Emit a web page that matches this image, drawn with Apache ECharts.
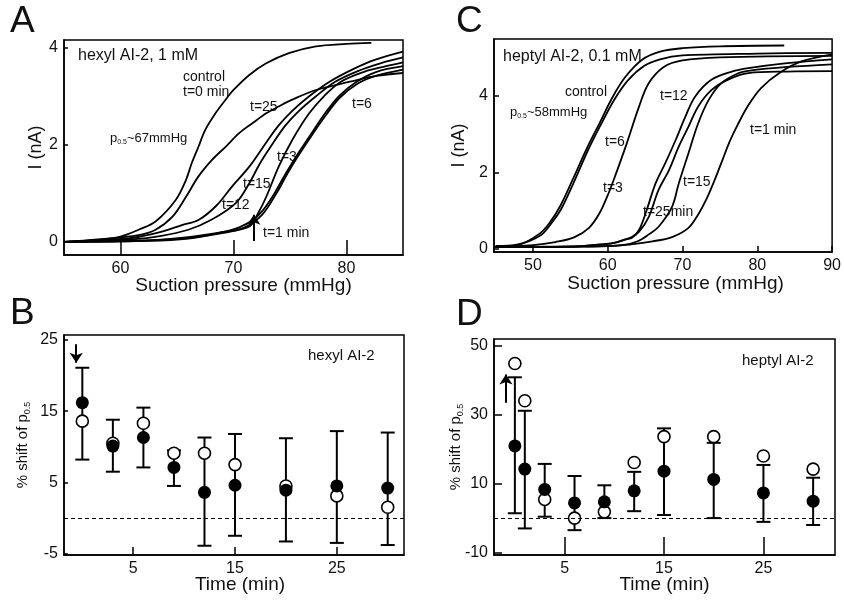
<!DOCTYPE html>
<html>
<head>
<meta charset="utf-8">
<script src="https://cdn.jsdelivr.net/npm/echarts@6.0.0/dist/echarts.min.js"></script>
<style>
  html, body { margin: 0; padding: 0; background: #fff; }
  #fig { width: 844px; height: 606px; }
</style>
</head>
<body>
<div id="fig"></div>
<script>
// panel A: hexyl AI-2, 1 mM -- current (nA) vs suction pressure (mmHg)
var aControl = [[55,0],[58,0.04],[60,0.11],[61.6,0.25],[63.1,0.42],[64.9,0.87],[65.8,1.28],[66.3,1.62],[66.9,1.96],[67.5,2.31],[68.4,2.65],[69.3,2.93],[70,3.13],[71.4,3.44],[72.9,3.68],[74.9,3.89],[77.3,4.03],[80,4.08],[82.2,4.1]]
var a25 = [[55,0],[58,0.05],[61.6,0.14],[63.1,0.25],[64.6,0.52],[65.8,0.93],[66.9,1.35],[68.1,1.69],[69.3,1.96],[70.5,2.24],[71.7,2.45],[72.9,2.65],[74,2.79],[75.2,2.93],[77.3,3.13],[80.3,3.3],[82.6,3.42],[85,3.48]]
var a15 = [[55,0],[58,0.03],[61,0.08],[63.5,0.2],[65.5,0.35],[66.9,0.45],[68.5,0.75],[69.9,1.15],[71.4,1.55],[72.9,2.05],[74,2.4],[75.2,2.7],[76.7,3.0],[78.5,3.3],[80.5,3.55],[82.5,3.75],[85,3.92]]
var a12 = [[55,0],[58,0.02],[61,0.05],[63.5,0.12],[66,0.25],[68,0.45],[70.2,0.8],[71.4,1.21],[72.3,1.6],[73.4,2.0],[74.6,2.4],[75.8,2.7],[77.3,3.0],[79,3.3],[81,3.52],[83,3.68],[85,3.8]]
var a3 = [[55,0],[62,0.03],[66,0.1],[69,0.2],[71.4,0.32],[72.2,0.6],[72.9,0.93],[74,1.55],[75.2,2.1],[76.7,2.65],[78,3.0],[79.5,3.3],[81.5,3.5],[83.5,3.62],[85,3.7]]
var a1 = [[55,0],[62,0.02],[66,0.07],[69,0.2],[70.5,0.3],[71.7,0.45],[72.6,0.65],[73.5,0.95],[74.6,1.4],[75.8,1.85],[77,2.27],[78.2,2.68],[79.4,3.02],[80.9,3.3],[82.6,3.5],[85,3.62]]
var a6 = [[55,0],[62,0.02],[66,0.08],[69,0.18],[71,0.3],[72.5,0.55],[73.8,1.0],[74.8,1.42],[75.8,1.8],[77,2.22],[78.2,2.62],[79.4,2.97],[80.9,3.25],[82.6,3.42],[85,3.55]]

// panel C: heptyl AI-2, 0.1 mM
var cControl = [[45,0.05],[48,0.1],[50.9,0.4],[52.3,0.7],[53.6,1.1],[55.3,1.8],[57.1,2.58],[58.9,3.28],[60.7,3.98],[62.4,4.5],[64.6,4.94],[67,5.15],[70,5.24],[75,5.29],[83.6,5.31]]
var c6 = [[45,0.08],[48,0.12],[51,0.35],[52.5,0.68],[53.8,1.05],[55.5,1.75],[57.3,2.55],[59.1,3.25],[60.9,3.9],[62.7,4.4],[64.9,4.78],[67,4.95],[70,5.05],[80,5.1],[90,5.12]]
var c3 = [[45,0.05],[50,0.1],[53,0.18],[55.5,0.3],[57.5,0.55],[58.9,0.93],[60,1.4],[60.8,1.8],[62.4,2.67],[64.2,3.72],[65.5,4.33],[67.5,4.75],[70,4.92],[75,5.0],[90,5.04]]
var c12 = [[45,0.05],[55,0.06],[58,0.1],[60.7,0.15],[62.4,0.25],[63.3,0.3],[64.2,0.5],[65.1,0.95],[66.4,1.71],[67.7,2.24],[69.1,2.85],[70.4,3.46],[71.7,3.98],[73.9,4.42],[76.6,4.63],[78.8,4.72],[84,4.85],[90,4.95]]
var c25 = [[45,0.05],[55,0.06],[58,0.1],[60.7,0.15],[62.4,0.25],[63.3,0.32],[64.2,0.45],[65.5,0.84],[66.8,1.54],[68.2,2.06],[69.5,2.67],[70.8,3.19],[72.1,3.72],[73.9,4.15],[76.1,4.42],[78.8,4.59],[84,4.63],[90,4.64]]
var c15 = [[45,0.05],[58,0.06],[62,0.1],[64,0.2],[65.5,0.38],[66.8,0.58],[68.6,1.1],[69.5,1.71],[70.8,2.5],[72.1,3.28],[73.5,3.89],[75.2,4.33],[77.5,4.59],[78.8,4.65],[84,4.75],[90,4.82]]
var c1 = [[45,0.05],[58,0.07],[62,0.1],[66,0.2],[68.6,0.31],[70.8,0.55],[72.1,0.9],[73.2,1.3],[74.3,1.8],[75.3,2.3],[76.3,2.8],[77.4,3.25],[78.8,3.75],[80.5,4.2],[83,4.6],[86,4.9],[90,5.08]]

// panel B: % shift of p0.5, hexyl AI-2
var timeB = [0, 3, 6, 9, 12, 15, 20, 25, 30]
var filledB = [16.2, 10.1, 11.3, 7.1, 3.6, 4.6, 3.9, 4.5, 4.2]
var openB = [13.6, 10.5, 13.3, 9.1, 9.1, 7.5, 4.5, 3.1, 1.5]
var errLowB = [8.2, 6.5, 7.1, 4.5, -3.9, -2.5, -3.3, -3.5, -3.8]
var errHighB = [21.1, 13.8, 15.5, 9.5, 11.3, 11.8, 11.2, 12.2, 12.0]

// panel D: % shift of p0.5, heptyl AI-2
var timeD = [0, 1, 3, 6, 9, 12, 15, 20, 25, 30]
var filledD = [20.9, 14.2, 8.3, 4.4, 4.7, 7.9, 13.6, 11.2, 7.3, 4.9]
var openD = [44.8, 34.0, 5.4, 0, 1.8, 16.1, 23.6, 23.6, 18.0, 14.2]
var errLowD = [1.4, -3.0, 0.4, -3.5, 0, 2.0, 0.9, 0, -1.1, -2.0]
var errHighD = [40.8, 31.1, 15.7, 12.2, 9.5, 13.4, 26.0, 21.8, 15.4, 11.7]

// tick labels
var ticksAx = [60, 70, 80], ticksAy = [0, 2, 4]
var ticksCx = [50, 60, 70, 80, 90], ticksCy = [0, 2, 4]
var ticksBx = [5, 15, 25], ticksBy = [-5, 5, 15, 25]
var ticksDx = [5, 15, 25], ticksDy = [-10, 10, 30, 50]

var FONT = 'Liberation Sans, Arial, sans-serif'
var INK = '#111'

function pairs(t, a, b) {
  return t.map(function (v, i) { return b ? [v, a[i], b[i]] : [v, a[i]] })
}

function xAx(gi, min, max, ticks, tickLen, name, gap, shift, margin) {
  return {
    gridIndex: gi, type: 'value', min: min, max: max,
    name: name, nameLocation: 'middle', nameGap: gap, nameMoveOverlap: false,
    nameTextStyle: { fontSize: 19, color: INK, fontFamily: FONT, padding: [0, 0, 0, shift] },
    axisLine: { show: true, onZero: false, lineStyle: { color: '#000', width: 1.5 } },
    axisTick: { show: true, inside: true, length: tickLen, customValues: ticks, lineStyle: { color: '#000', width: 1.5 } },
    axisLabel: { customValues: ticks, fontSize: 16, color: INK, fontFamily: FONT, margin: margin },
    splitLine: { show: false }
  }
}

function yAx(gi, min, max, ticks, tickLen, name, gap, rich) {
  return {
    gridIndex: gi, type: 'value', min: min, max: max,
    name: name, nameLocation: 'middle', nameGap: gap, nameMoveOverlap: false,
    nameTextStyle: { fontSize: 18, color: INK, fontFamily: FONT, rich: rich },
    axisLine: { show: true, onZero: false, lineStyle: { color: '#000', width: 1.5 } },
    axisTick: { show: true, inside: true, length: tickLen, customValues: ticks, lineStyle: { color: '#000', width: 1.5 } },
    axisLabel: { customValues: ticks, fontSize: 16, color: INK, fontFamily: FONT, margin: 6 },
    splitLine: { show: false }
  }
}

function curve(gi, data) {
  return {
    type: 'line', xAxisIndex: gi, yAxisIndex: gi, data: data,
    showSymbol: false, smooth: 0.35, silent: true,
    lineStyle: { color: '#000', width: 1.8 }
  }
}

function errRender(params, api) {
  var x = api.value(0)
  var lo = api.coord([x, api.value(1)])
  var hi = api.coord([x, api.value(2)])
  var w = 7
  var st = { stroke: '#000', lineWidth: 2 }
  return {
    type: 'group', children: [
      { type: 'line', shape: { x1: hi[0], y1: hi[1], x2: lo[0], y2: lo[1] }, style: st },
      { type: 'line', shape: { x1: hi[0] - w, y1: hi[1], x2: hi[0] + w, y2: hi[1] }, style: st },
      { type: 'line', shape: { x1: lo[0] - w, y1: lo[1], x2: lo[0] + w, y2: lo[1] }, style: st }
    ]
  }
}

function arrow(from, to) {
  return {
    silent: true, symbol: ['none', 'arrow'], symbolSize: 10,
    label: { show: false },
    lineStyle: { color: '#000', width: 2, type: 'solid' },
    data: [[{ coord: from }, { coord: to }]]
  }
}

function shiftPanel(gi, t, filled, open, lo, hi, arrowFrom, arrowTo) {
  return [
    { type: 'custom', xAxisIndex: gi, yAxisIndex: gi, data: pairs(t, lo, hi), renderItem: errRender, silent: true, z: 2 },
    {
      type: 'scatter', xAxisIndex: gi, yAxisIndex: gi, data: pairs(t, open), symbolSize: 12, silent: true, z: 3,
      itemStyle: { color: '#fff', borderColor: '#000', borderWidth: 1.6, opacity: 1 },
      markLine: {
        silent: true, symbol: ['none', 'none'], label: { show: false },
        lineStyle: { color: '#000', width: 1, type: [4, 3] },
        data: [{ yAxis: 0 }]
      }
    },
    {
      type: 'scatter', xAxisIndex: gi, yAxisIndex: gi, data: pairs(t, filled), symbolSize: 13, silent: true, z: 4,
      itemStyle: { color: '#000', opacity: 1 },
      markLine: arrow(arrowFrom, arrowTo)
    }
  ]
}

function txt(x, y, s, size, rich) {
  return {
    type: 'text', x: x, y: y, silent: true,
    style: { text: s, fill: INK, font: size + 'px ' + FONT, textVerticalAlign: 'middle', rich: rich }
  }
}

var subRich = {
  p: { fontSize: 13, fontFamily: FONT, color: INK, verticalAlign: 'bottom' },
  s: { fontSize: 7, fontFamily: FONT, color: INK, verticalAlign: 'bottom', padding: [0, 0, -1, 0] }
}
var nameRich = {
  a: { fontSize: 15, fontFamily: FONT, color: INK, verticalAlign: 'bottom' },
  b: { fontSize: 9, fontFamily: FONT, color: INK, verticalAlign: 'bottom', padding: [0, 0, -2, 0] }
}

var aSeries = [aControl, a25, a15, a12, a3, a1, a6].map(function (d) { return curve(0, d) })
aSeries[6].markLine = arrow([71.8, 0.02], [71.8, 0.56])
var cSeries = [cControl, c6, c3, c12, c25, c15, c1].map(function (d) { return curve(1, d) })

var option = {
  animation: false,
  backgroundColor: '#fff',
  textStyle: { fontFamily: FONT },
  grid: [
    { left: 64, top: 40, width: 339, height: 215, show: true, borderColor: '#000', borderWidth: 1.5 },
    { left: 494, top: 39, width: 341, height: 213, show: true, borderColor: '#000', borderWidth: 1.5 },
    { left: 64, top: 335, width: 340, height: 220, show: true, borderColor: '#000', borderWidth: 1.5 },
    { left: 494, top: 339, width: 341, height: 216, show: true, borderColor: '#000', borderWidth: 1.5 }
  ],
  xAxis: [
    xAx(0, 55, 85, ticksAx, 15, 'Suction pressure (mmHg)', 21, 20, 6),
    xAx(1, 44.8, 90, ticksCx, 6, 'Suction pressure (mmHg)', 22, 25, 6),
    xAx(2, -1.8, 31.6, ticksBx, 8, 'Time (min)', 20, 12, 6),
    xAx(3, -2.1, 32.2, ticksDx, 18, 'Time (min)', 20, 0, 6)
  ],
  yAxis: [
    yAx(0, -0.27, 4.16, ticksAy, 4, 'I (nA)', 19),
    yAx(1, -0.08, 5.48, ticksCy, 5, 'I (nA)', 26),
    yAx(2, -5.2, 25.7, ticksBy, 4, '{a|% shift of p}{b|0.5}', 34, nameRich),
    yAx(3, -10.7, 51.9, ticksDy, 8, '{a|% shift of p}{b|0.5}', 31, nameRich)
  ],
  series: aSeries.concat(cSeries)
    .concat(shiftPanel(2, timeB, filledB, openB, errLowB, errHighB, [-0.6, 24.4], [-0.6, 21.8]))
    .concat(shiftPanel(3, timeD, filledD, openD, errLowD, errHighD, [-0.9, 33.4], [-0.9, 41.6])),
  graphic: [
    txt(10, 22, 'A', 37), txt(456, 22, 'C', 37), txt(10, 314, 'B', 37), txt(456, 315, 'D', 37),
    txt(78, 56, 'hexyl AI-2, 1 mM', 16),
    txt(183, 77, 'control', 14), txt(183, 92, 't=0 min', 14),
    txt(250, 107, 't=25', 14),
    txt(110, 138, '{p|p}{s|0.5}{p|~67mmHg}', 13, subRich),
    txt(352, 104, 't=6', 14), txt(277, 157, 't=3', 14),
    txt(243, 184, 't=15', 14), txt(222, 205, 't=12', 14),
    txt(263, 233, 't=1 min', 14),
    txt(503, 57, 'heptyl AI-2, 0.1 mM', 16),
    txt(565, 92, 'control', 14),
    txt(510, 112, '{p|p}{s|0.5}{p|~58mmHg}', 13, subRich),
    txt(605, 142, 't=6', 14), txt(603, 188, 't=3', 14),
    txt(660, 96, 't=12', 14), txt(683, 182, 't=15', 14),
    txt(643, 212, 't=25min', 14), txt(750, 130, 't=1 min', 14),
    txt(308, 356, 'hexyl AI-2', 15),
    txt(742, 361, 'heptyl AI-2', 15)
  ]
}

var chart = echarts.init(document.getElementById('fig'), null, { renderer: 'canvas' })
chart.setOption(option)
</script>
</body>
</html>
